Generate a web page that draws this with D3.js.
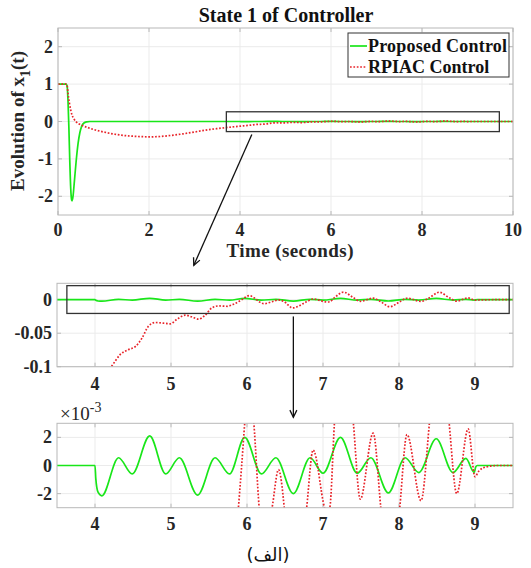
<!DOCTYPE html>
<html><head><meta charset="utf-8">
<script src="https://cdn.jsdelivr.net/npm/d3@7"></script>
<style>
body{margin:0;background:#fff;}
text{font-family:"Liberation Serif","Times New Roman",serif;}
</style></head>
<body><svg id="c" width="531" height="568"></svg>
<script>
// ---------- data ----------
const seriesNames = ["Proposed Control", "RPIAC Control"];
const greenT = [0,0.18,0.2,0.22,0.24,0.26,0.28,0.3,0.31,0.33,0.36,0.4,0.44,0.48,0.52,0.57,0.63,0.7,
  4.0,4.01,4.04,4.09,4.31,4.49,4.72,4.93,5.11,5.35,5.58,5.77,5.97,6.19,6.38,6.61,6.83,7.0,7.23,7.45,7.63,7.86,8.08,8.26,8.49,8.71,8.88,8.99,9.01,9.03,10];
const greenV = [1,1,0.95,0.55,-0.2,-1.1,-1.8,-2.1,-2.12,-2.0,-1.6,-1.05,-0.6,-0.3,-0.13,-0.04,-0.01,0,
  0,-0.9e-3,-1.9e-3,-2.16e-3,0.55e-3,-0.6e-3,2.1e-3,-0.6e-3,0.55e-3,-2.1e-3,0.55e-3,-0.6e-3,2.0e-3,-0.6e-3,0.55e-3,-2.0e-3,0.55e-3,-0.55e-3,2.0e-3,-0.55e-3,0.55e-3,-1.95e-3,0.55e-3,-0.5e-3,1.9e-3,-0.5e-3,0.5e-3,-0.5e-3,-0.1e-3,0,0];
const redT = [0,0.18,0.2,0.22,0.25,0.28,0.31,0.35,0.4,0.5,0.65,0.8,1.0,1.25,1.5,1.75,2.0,2.25,2.5,2.75,3.0,3.25,3.5,3.75,4.0,
  4.22,4.33,4.44,4.53,4.62,4.70,4.79,4.90,4.99,5.08,5.19,5.27,5.36,5.45,5.54,5.63,5.74,5.82,5.93,5.97,6.03,6.09,6.16,6.22,6.33,6.415,6.49,6.6,6.785,6.87,7.02,7.05,7.09,7.15,7.27,7.40,7.49,7.66,7.76,7.88,8.01,8.105,8.29,8.40,8.53,8.66,8.76,8.91,9.0,9.05,9.15,9.3,10];
const redV = [1,1,0.97,0.75,0.5,0.3,0.17,0.07,-0.01,-0.09,-0.16,-0.22,-0.28,-0.34,-0.38,-0.40,-0.41,-0.40,-0.37,-0.33,-0.28,-0.23,-0.19,-0.155,-0.125,
  -0.099,-0.082,-0.0745,-0.07,-0.057,-0.040,-0.034,-0.035,-0.036,-0.029,-0.023,-0.0255,-0.029,-0.023,-0.012,-0.0093,-0.0098,-0.0069,0,0.003,0.0062,0.003,-0.003,-0.0059,-0.003,-0.0003,-0.003,-0.0123,-0.003,0.0011,-0.003,-0.0035,-0.003,0.003,0.0112,0.003,-0.0024,0.0023,-0.003,-0.0105,-0.003,0.0022,-0.0025,0.003,0.0112,0.003,-0.002,0.0026,-0.0008,-0.0004,-0.0001,0,0];

const p1XTicks = [0,2,4,6,8,10];
const p1YTicks = [-2,-1,0,1,2];
const zoomXTicks = [4,5,6,7,8,9];
const p2YTicks = [-0.1,-0.05,0];
const p2YLabels = ["-0.1","-0.05","0"];
const p3YTicks = [-2e-3,0,2e-3];
const p3YLabels = ["-2","0","2"];
const box1 = {x0:3.7, x1:9.7, y0:-0.27, y1:0.26};
const box2 = {x0:3.63, x1:9.45, y0:-0.0205, y1:0.021};

// ---------- drawing ----------
const svg = d3.select("#c");
const GREEN = "#19e619", RED = "#e8242a", GRID = "#ebebeb", AX = "#b8b8b8";
const TICKFS = 18;
const gData = greenT.map((t,i)=>[t,greenV[i]]);
const rData = redT.map((t,i)=>[t,redV[i]]);

function panel(id, x, y, xTicks, yTicks, yLabels, xLabY) {
  const g = svg.append("g");
  const [L,R] = x.range(), [B,T] = y.range();
  g.append("clipPath").attr("id",id).append("rect").attr("x",L).attr("y",T).attr("width",R-L).attr("height",B-T);
  g.selectAll(".gx").data(xTicks).join("line").attr("x1",d=>x(d)).attr("x2",d=>x(d)).attr("y1",T).attr("y2",B).attr("stroke",GRID);
  g.selectAll(".gy").data(yTicks).join("line").attr("y1",d=>y(d)).attr("y2",d=>y(d)).attr("x1",L).attr("x2",R).attr("stroke",GRID);
  g.selectAll(".tx").data(xTicks).join("line").attr("x1",d=>x(d)).attr("x2",d=>x(d)).attr("y1",B).attr("y2",B-4).attr("stroke",AX);
  g.selectAll(".tx2").data(xTicks).join("line").attr("x1",d=>x(d)).attr("x2",d=>x(d)).attr("y1",T).attr("y2",T+4).attr("stroke",AX);
  g.selectAll(".ty").data(yTicks).join("line").attr("y1",d=>y(d)).attr("y2",d=>y(d)).attr("x1",L).attr("x2",L+4).attr("stroke",AX);
  g.selectAll(".ty2").data(yTicks).join("line").attr("y1",d=>y(d)).attr("y2",d=>y(d)).attr("x1",R).attr("x2",R-4).attr("stroke",AX);
  const line = d3.line().x(d=>x(d[0])).y(d=>y(d[1])).curve(d3.curveMonotoneX);
  const lg = g.append("g").attr("clip-path",`url(#${id})`);
  lg.append("path").attr("d",line(gData)).attr("fill","none").attr("stroke",GREEN).attr("stroke-width",1.7);
  lg.append("path").attr("d",line(rData)).attr("fill","none").attr("stroke",RED).attr("stroke-width",1.7).attr("stroke-dasharray","1.7,1.7");
  g.append("rect").attr("x",L).attr("y",T).attr("width",R-L).attr("height",B-T).attr("fill","none").attr("stroke",AX).attr("stroke-width",1);
  g.selectAll(".lx").data(xTicks).join("text").attr("x",d=>x(d)).attr("y",xLabY).attr("text-anchor","middle")
    .attr("font-size",TICKFS).attr("font-weight","bold").attr("fill","#262626").text(d=>d);
  g.selectAll(".ly").data(yTicks).join("text").attr("x",L-5).attr("y",d=>y(d)+6).attr("text-anchor","end")
    .attr("font-size",TICKFS).attr("font-weight","bold").attr("fill","#262626").text((d,i)=>yLabels[i]);
  return g;
}

// Panel 1
const x1 = d3.scaleLinear().domain([0,10]).range([58,513]);
const y1 = d3.scaleLinear().domain([-2.5,2.5]).range([215,28]);
panel("cp1", x1, y1, p1XTicks, p1YTicks, p1YTicks.map(String), 235.5);
svg.append("rect").attr("x",x1(box1.x0)).attr("y",y1(box1.y1)).attr("width",x1(box1.x1)-x1(box1.x0)).attr("height",y1(box1.y0)-y1(box1.y1))
  .attr("fill","none").attr("stroke","#333").attr("stroke-width",1.3);
svg.append("text").attr("x",286).attr("y",22).attr("text-anchor","middle").attr("font-size",20).attr("font-weight","bold").attr("fill","#111").text("State 1 of Controller");
svg.append("text").attr("x",290).attr("y",257).attr("text-anchor","middle").attr("font-size",19).attr("font-weight","bold").attr("fill","#262626")
  .attr("textLength",127).text("Time (seconds)");
const yl = svg.append("text").attr("transform","translate(24,121) rotate(-90)").attr("text-anchor","middle").attr("font-size",19).attr("font-weight","bold").attr("fill","#262626");
yl.append("tspan").text("Evolution of x");
yl.append("tspan").attr("font-size",14).attr("dy",6).text("1");
yl.append("tspan").attr("dy",-6).text("(t)");

// legend
const lgd = svg.append("g");
lgd.append("rect").attr("x",348).attr("y",33).attr("width",161).attr("height",44).attr("fill","#fff").attr("stroke","#333").attr("stroke-width",1);
[GREEN, RED].forEach((c,i)=>{
  const yy = 46 + i*21;
  lgd.append("line").attr("x1",350).attr("x2",367).attr("y1",yy).attr("y2",yy).attr("stroke",c).attr("stroke-width",1.7)
    .attr("stroke-dasharray", i? "1.7,1.7": null);
  lgd.append("text").attr("x",368).attr("y",yy+6).attr("font-size",18).attr("font-weight","bold").attr("fill","#111")
    .attr("textLength", i ? null : 139).text(seriesNames[i]);
});

// Panel 2
const x2 = d3.scaleLinear().domain([3.5,9.5]).range([57,513]);
const y2 = d3.scaleLinear().domain([-0.1,0.0245]).range([366.7,283.3]);
panel("cp2", x2, y2, zoomXTicks, p2YTicks, p2YLabels, 389.5);
svg.append("rect").attr("x",x2(box2.x0)).attr("y",y2(box2.y1)).attr("width",x2(box2.x1)-x2(box2.x0)).attr("height",y2(box2.y0)-y2(box2.y1))
  .attr("fill","none").attr("stroke","#333").attr("stroke-width",1.3);

// Panel 3
const x3 = d3.scaleLinear().domain([3.5,9.5]).range([57,513]);
const y3 = d3.scaleLinear().domain([-3e-3,3e-3]).range([507.7,423.3]);
panel("cp3", x3, y3, zoomXTicks, p3YTicks, p3YLabels, 529.5);
const ex = svg.append("text").attr("x",60).attr("y",420).attr("font-size",19).attr("fill","#262626");
ex.append("tspan").text("\u00d710");
ex.append("tspan").attr("dy",-8).attr("font-size",14).text("-3");

// arrows
function arrow(xa,ya,xb,yb){
  svg.append("line").attr("x1",xa).attr("y1",ya).attr("x2",xb).attr("y2",yb).attr("stroke","#111").attr("stroke-width",1.3);
  const a = Math.atan2(yb-ya,xb-xa), L=8, w=0.45;
  const p = [[xb-L*Math.cos(a-w), yb-L*Math.sin(a-w)],[xb,yb],[xb-L*Math.cos(a+w), yb-L*Math.sin(a+w)]];
  svg.append("path").attr("d",d3.line()(p)).attr("fill","none").attr("stroke","#111").attr("stroke-width",1.3);
}
arrow(x1(4.26), y1(box1.y0)+3, x2(5.3), y2.range()[1]-18);
arrow(x2(6.61), y2(box2.y0)+3, x3(6.61), y3.range()[1]-6);

svg.append("text").attr("x",268).attr("y",561).attr("text-anchor","middle").attr("font-size",18).attr("fill","#111")
  .attr("style","font-family:'DejaVu Sans','Noto Sans',serif").text("(الف)");
</script></body></html>
